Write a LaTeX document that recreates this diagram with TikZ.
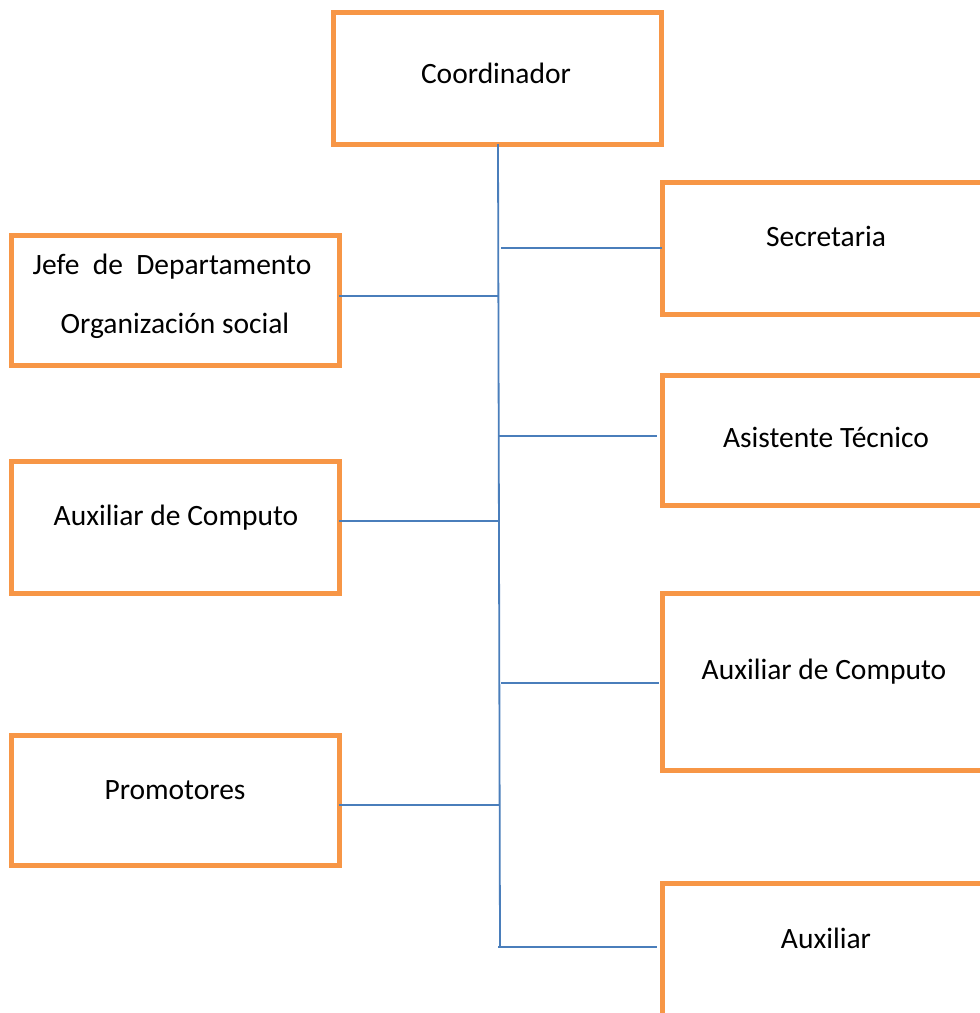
\documentclass[tikz,border=0pt]{standalone}
\usepackage{fontspec}
\setmainfont{Carlito}
\definecolor{boxorange}{HTML}{F79646}
\definecolor{lineblue}{HTML}{4A7EBB}
\begin{document}
\begin{tikzpicture}[x=1pt,y=-1pt,
  orgbox/.style={draw=boxorange,line width=5pt,rectangle,inner sep=0pt,outer sep=0pt,fill=white},
  conn/.style={draw=lineblue,line width=1.8pt},
  lbl/.style={anchor=base,inner sep=0pt,font=\fontsize{29.5}{35}\selectfont}]
\useasboundingbox (0,0) rectangle (980,1013);
\clip (0,0) rectangle (980,1013);
\fill[white] (0,0) rectangle (980,1013);
% boxes
\node[orgbox,minimum width=328pt,minimum height=132pt] (coord) at (497,78) {};
\node[orgbox,minimum width=328pt,minimum height=130pt] (jefe) at (175,300) {};
\node[orgbox,minimum width=328pt,minimum height=132pt] (auxl) at (175,527) {};
\node[orgbox,minimum width=328pt,minimum height=130pt] (prom) at (175,800) {};
\node[orgbox,minimum width=328pt,minimum height=132pt] (sec) at (826,248) {};
\node[orgbox,minimum width=328pt,minimum height=130pt] (asis) at (826,440) {};
\node[orgbox,minimum width=328pt,minimum height=177pt] (auxr) at (826,681.5) {};
\node[orgbox,minimum width=328pt,minimum height=132pt] (aux) at (826,949) {};
% labels
\node[lbl] (tcoord) at (496,83) {Coordinador};
\node[lbl] (tjefe1) at (172,274) {Jefe\hspace{0.45em}de\hspace{0.45em}Departamento};
\node[lbl] (tjefe2) at (175,333) {Organización social};
\node[lbl] (tauxl) at (176,525) {Auxiliar de Computo};
\node[lbl] (tprom) at (175,799) {Promotores};
\node[lbl] (tsec) at (826,246) {Secretaria};
\node[lbl] (tasis) at (826,447) {Asistente Técnico};
\node[lbl] (tauxr) at (824,679) {Auxiliar de Computo};
\node[lbl] (taux) at (826,948) {Auxiliar};
% trunk
\coordinate (ttop) at (498,146);
\coordinate (tbot) at (500,947);
\draw[conn] (coord.south -| ttop) -- (tbot);
% branches
\coordinate (bsec) at (501,248);
\coordinate (bjefe) at (498.5,296);
\coordinate (basis) at (499,436);
\coordinate (bauxl) at (499,521);
\coordinate (bauxr) at (501,683);
\coordinate (bprom) at (500,805);
\coordinate (baux) at (498,947);
\draw[conn] (bsec) -- (sec.west |- bsec);
\draw[conn] (jefe.east |- bjefe) -- (bjefe);
\draw[conn] (basis) -- ([xshift=-5pt]asis.west |- basis);
\draw[conn] (auxl.east |- bauxl) -- (bauxl);
\draw[conn] (bauxr) -- ([xshift=-3pt]auxr.west |- bauxr);
\draw[conn] (prom.east |- bprom) -- (bprom);
\draw[conn] (baux) -- ([xshift=-5pt]aux.west |- baux);
\end{tikzpicture}
\end{document}
